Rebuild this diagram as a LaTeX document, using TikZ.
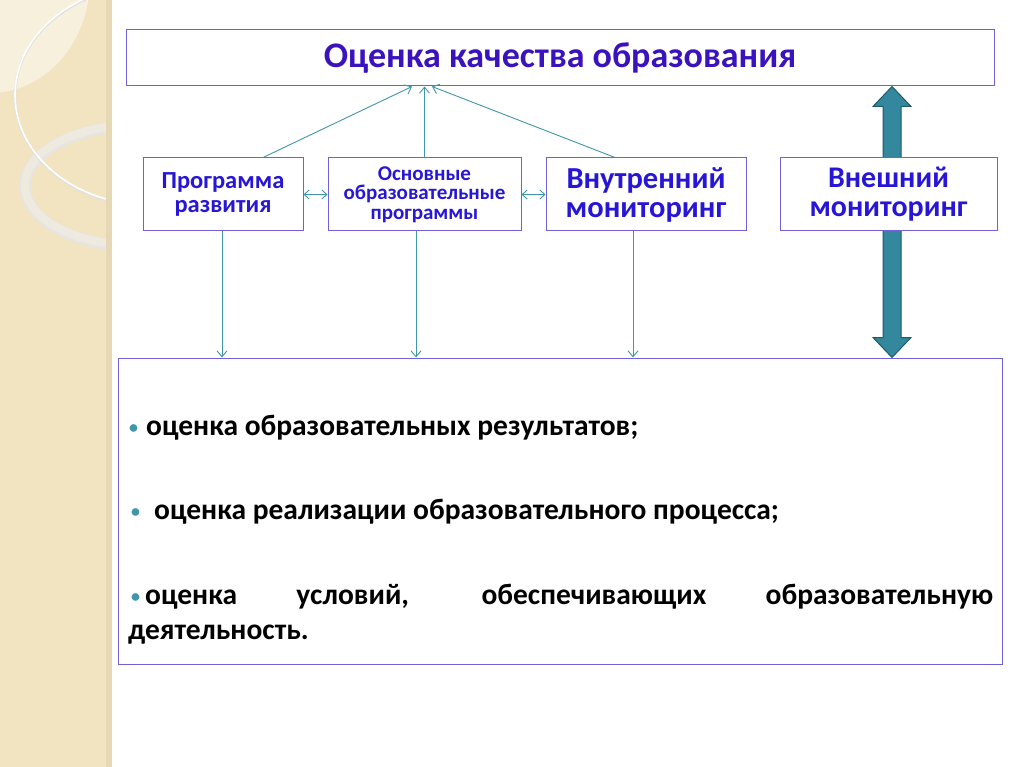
\documentclass[tikz,border=0pt]{standalone}
\usepackage{fontspec}
\setmainfont{Carlito}
\usepackage{xcolor}
\usepackage{tikz}
\usetikzlibrary{arrows.meta, positioning, calc, backgrounds}

\definecolor{boxline}{RGB}{112,96,214}
\definecolor{boxtext}{RGB}{40,22,214}
\definecolor{titletext}{RGB}{58,18,190}
\definecolor{linkteal}{RGB}{64,150,170}
\definecolor{arrowfill}{RGB}{52,136,158}
\definecolor{arrowline}{RGB}{30,90,106}
\definecolor{strip}{RGB}{242,228,192}
\definecolor{stripedge}{RGB}{230,216,180}
\definecolor{striplight}{RGB}{247,240,220}
\definecolor{ring}{RGB}{238,234,224}

\newcommand{\itemdot}{\textcolor{linkteal}{\fontsize{18}{18}\selectfont\raisebox{2pt}{•}}}

\begin{document}
\begin{tikzpicture}[
    x=1pt, y=-1pt,
    box/.style={rectangle, draw=boxline, fill=white, line width=1pt, inner sep=0pt, align=center, text=boxtext, minimum height=73pt},
    link/.style={-{Straight Barb[length=6pt,width=10pt]}, draw=linkteal, line width=0.9pt},
    both/.style={{Straight Barb[length=5pt,width=9pt]}-{Straight Barb[length=5pt,width=9pt]}, draw=linkteal, line width=0.9pt},
    blockarrow/.style={fill=arrowfill, draw=arrowline, line width=1pt, line join=miter},
    item/.style={anchor=west, inner sep=0pt, font=\fontsize{29.5}{35}\selectfont\bfseries}
]
\useasboundingbox (0,0) rectangle (1024,767);

% Title
\node[box, minimum width=868pt, minimum height=56pt, text=titletext, font=\fontsize{36}{40}\selectfont\bfseries] (title) at (560,58) {Оценка качества образования};

% Sources
\node[box, minimum width=160pt, font=\fontsize{24.5}{24}\selectfont\bfseries] (prog) at (223,194.5) {Программа\\развития};
\node[box, right=24pt of prog, minimum width=193pt, font=\fontsize{21}{19.5}\selectfont\bfseries] (osn) {Основные\\образовательные\\программы};
\node[box, right=24pt of osn, minimum width=200pt, font=\fontsize{30.5}{29}\selectfont\bfseries] (vnutr) {Внутренний\\мониторинг};
\node[box, right=33pt of vnutr, minimum width=217pt, font=\fontsize{30}{29}\selectfont\bfseries] (vnesh) {Внешний\\мониторинг};

% Results
\node[box, minimum width=884pt, minimum height=306pt] (res) at (560,511) {};
\node[item] (r1) at (129,428) {\itemdot\hspace{8pt}оценка образовательных результатов;};
\node[item] (r2) at (131,512) {\itemdot\hspace{14pt}оценка реализации образовательного процесса;};
\node[item, anchor=north west, text width=865pt, align=justify] (r3) at (128,584) {\hspace{3pt}\itemdot\hspace{5pt}оценка условий, обеспечивающих образовательную\linebreak деятельность.};

% Arrows
\draw[link] ([xshift=40pt]prog.north) -- ([xshift=-148pt]title.south);
\draw[link] (osn.north) -- (osn.north |- title.south);
\draw[link] ([xshift=-31pt]vnutr.north) -- ([xshift=-128pt]title.south);
\draw[both] (prog.east) -- (osn.west);
\draw[both] (osn.east) -- (vnutr.west);

\coordinate (progout) at ([xshift=-1pt]prog.south);
\coordinate (osnout) at ([xshift=-8.5pt]osn.south);
\coordinate (vnutrout) at ([xshift=-13pt]vnutr.south);
\draw[link] (progout) -- (progout |- res.north);
\draw[link] (osnout) -- (osnout |- res.north);
\draw[link] (vnutrout) -- (vnutrout |- res.north);

% Background
\begin{scope}[on background layer]
\fill[white] (0,0) rectangle (1024,767);
\fill[strip] (0,0) rectangle (110,767);
\begin{scope}
\clip (0,0) rectangle (110,767);
\fill[striplight] (-10,-20) ellipse [x radius=100, y radius=113];
\draw[black!10, line width=11pt] (135,186) ellipse [x radius=110, y radius=60];
\draw[ring, line width=8pt] (135,185) ellipse [x radius=110, y radius=60];
\draw[black!12, line width=2.5pt] (150,96) ellipse [x radius=135, y radius=110];
\draw[white, line width=1.6pt] (150,95) ellipse [x radius=135, y radius=110];
\end{scope}
\fill[stripedge] (106,0) rectangle (112,767);
\coordinate (ut) at ($(vnesh.north |- title.south)+(3.5,0)$);
\coordinate (dt) at ($(vnesh.south |- res.north)+(3.5,0)$);
\draw[blockarrow] (ut) -- ++(19,20) -- ++(-10,0) -- ($(dt)+(9,-20)$) -- ++(10,0) -- (dt) -- ++(-19,-20) -- ++(10,0) -- ($(ut)+(-9,20)$) -- ++(-10,0) -- cycle;
\end{scope}

\end{tikzpicture}
\end{document}
